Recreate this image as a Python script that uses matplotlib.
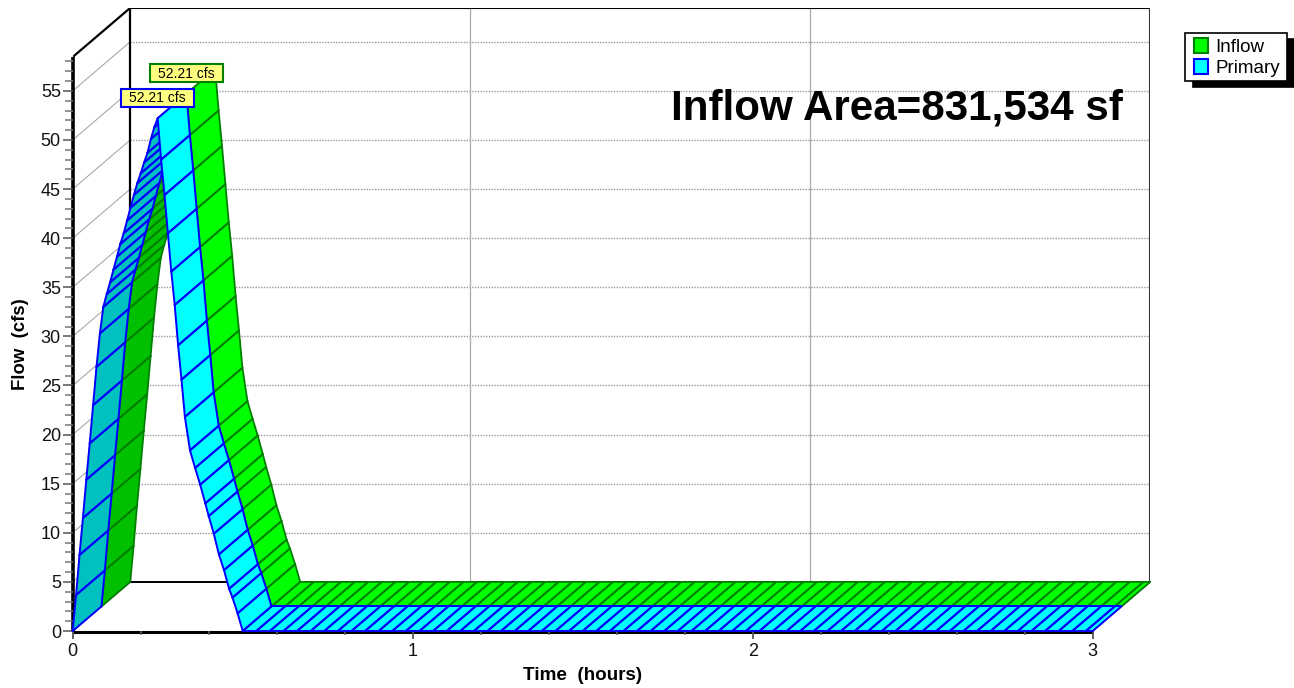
import numpy as np
import matplotlib
matplotlib.use("Agg")
import matplotlib.pyplot as plt
from matplotlib.patches import Patch, Rectangle

plt.rcParams['font.family'] = ['Liberation Sans', 'DejaVu Sans']

hydro_time = [i / 100 for i in range(34)] + [0.345, 0.36, 0.375, 0.39, 0.40, 0.415, 0.43, 0.445,
                                             0.46, 0.47, 0.485, 0.50]
hydro_flow = [0.0, 3.67, 7.74, 11.5, 15.4, 19.1, 23.0, 26.9, 30.3, 33.0,
              34.3, 35.5, 36.8, 38.1, 39.4, 40.5, 41.8, 43.1, 44.4, 45.6,
              46.6, 47.7, 48.7, 50.1, 51.3, 52.21,
              48.0, 44.4, 40.5, 36.6, 33.2, 29.1, 25.6, 21.8,
              18.4, 16.6, 14.9, 13.0, 11.7, 9.9, 7.8, 6.2, 4.3, 3.4, 1.8, 0.0]
flat_time = [0.54, 0.58, 0.62, 0.66, 0.70, 0.74, 0.78, 0.82, 0.86, 0.90, 0.94, 0.98,
             1.02, 1.06, 1.10, 1.14, 1.18, 1.22, 1.26, 1.30, 1.34, 1.38, 1.42, 1.46,
             1.50, 1.54, 1.58, 1.62, 1.66, 1.70, 1.74, 1.78, 1.82, 1.86, 1.90, 1.94,
             1.98, 2.02, 2.06, 2.10, 2.14, 2.18, 2.22, 2.26, 2.30, 2.34, 2.38, 2.42,
             2.46, 2.50, 2.54, 2.58, 2.62, 2.66, 2.70, 2.74, 2.78, 2.82, 2.86, 2.90,
             2.94, 2.98, 3.00]
times = hydro_time + flat_time
flows = hydro_flow + [0.0] * len(flat_time)
peak_flow = 52.21
peak_time = 0.25

x_major = [0, 1, 2, 3]
y_major = [0, 5, 10, 15, 20, 25, 30, 35, 40, 45, 50, 55]
y_top = 58.45
grid_flows = [5, 10, 15, 20, 25, 30, 35, 40, 45, 50, 55]

W, H = 1294, 688
X0, Y0 = 72.7, 631.0
SX, SY = 340.0, 9.82
DX, DY = 57.5 / SX, 5.0   # full depth of the 3-D box, in data units

fig = plt.figure(figsize=(W / 100, H / 100), dpi=100)
ax = fig.add_axes([X0 / W, (H - Y0) / H, (1150 - X0) / W, (Y0 - 8) / H])
ax.set_xlim(0, (1150 - X0) / SX)
ax.set_ylim(0, (Y0 - 8) / SY)
ax.set_facecolor('none')
for s in ax.spines.values():
    s.set_visible(False)

GRID = '#999999'
# back wall
for q in grid_flows:
    ax.plot([DX, 3 + DX], [q + DY, q + DY], color=GRID, lw=1.0, ls=(0, (1, 1)), zorder=1)
    ax.plot([0, DX], [q, q + DY], color='#a8a8a8', lw=0.8, zorder=1)
for t in x_major[1:3]:
    ax.plot([t + DX, t + DX], [DY, y_top + DY], color='#aaaaaa', lw=0.9, zorder=1)
ax.plot([DX, 3 + DX], [y_top + DY] * 2, color='k', lw=1.5, zorder=1)
ax.plot([DX, DX], [DY, y_top + DY], color='k', lw=1.6, zorder=1)
ax.plot([3 + DX] * 2, [DY, y_top + DY], color='#333333', lw=1.5, zorder=1)
ax.plot([DX, 3 + DX], [DY, DY], color='k', lw=1.4, zorder=1)
ax.plot([0, DX], [y_top, y_top + DY], color='k', lw=1.6, zorder=1)
ax.plot([0, DX], [0, DY], color='#555555', lw=1, zorder=1)
ax.plot([3, 3 + DX], [0, DY], color='#777777', lw=1.1, zorder=1)
# front axes
ax.plot([0.002, 0.002], [0, y_top], color='k', lw=2.6, zorder=1.5, solid_capstyle='butt', clip_on=False)
ax.plot([0, 3], [-0.08, -0.08], color='k', lw=2.2, zorder=1.5, solid_capstyle='butt', clip_on=False)


def ribbon(z0, z1, bright, dark, edge, lw):
    t = np.array(times)
    q = np.array(flows)
    ox0, oy0 = DX * z0, DY * z0
    ox1, oy1 = DX * z1, DY * z1
    kw = dict(zorder=2, solid_capstyle='round', clip_on=False)
    n_rise = int(np.argmax(q))
    for seg in (range(0, n_rise), range(n_rise, len(t) - 1)):
        for i in seg:
            col = dark if q[i + 1] > q[i] else bright
            xs = [t[i] + ox0, t[i + 1] + ox0, t[i + 1] + ox1, t[i] + ox1]
            ys = [q[i] + oy0, q[i + 1] + oy0, q[i + 1] + oy1, q[i] + oy1]
            ax.fill(xs, ys, facecolor=col, edgecolor=col, lw=0.3, zorder=2)
        for i in seg:
            ax.plot([t[i] + ox0, t[i] + ox1], [q[i] + oy0, q[i] + oy1], color=edge, lw=lw, **kw)
            ax.plot([t[i + 1] + ox0, t[i + 1] + ox1], [q[i + 1] + oy0, q[i + 1] + oy1],
                    color=edge, lw=lw, **kw)
            ax.plot([t[i] + ox0, t[i + 1] + ox0], [q[i] + oy0, q[i + 1] + oy0], color=edge, lw=lw, **kw)
            ax.plot([t[i] + ox1, t[i + 1] + ox1], [q[i] + oy1, q[i + 1] + oy1], color=edge, lw=lw, **kw)


ribbon(0.5, 1.0, '#00ff00', '#00c000', '#008000', 1.3)
ribbon(0.0, 0.5, '#00ffff', '#00c0c0', '#0000ff', 1.4)

# ticks
ax.set_xticks(x_major)
ax.set_xticks([v / 5 for v in range(16)], minor=True)
ax.set_yticks(y_major)
ax.set_yticks(list(range(0, 59)), minor=True)
ax.tick_params(axis='x', which='major', length=6, width=1.3, color='#555555', labelsize=13, pad=3)
ax.tick_params(axis='x', which='minor', length=3.2, width=1.1, color='#666666')
ax.tick_params(axis='y', which='major', length=7.5, width=1.1, color='#555555', labelsize=13, pad=1)
ax.tick_params(axis='y', which='minor', length=5.5, width=1.1, color='#777777')
for lab in ax.get_xticklabels() + ax.get_yticklabels():
    lab.set_color('#111111')

fig.text(583 / W, 1 - 675 / H, 'Time  (hours)', ha='center', va='center', fontsize=13.6, fontweight='bold')
fig.text(21 / W, 1 - 344 / H, 'Flow  (cfs)', ha='center', va='center', rotation=90, fontsize=13.4, fontweight='bold')
fig.text(896.5 / W, 1 - 120 / H, 'Inflow Area=831,534 sf', ha='center', va='baseline', fontsize=30.3, fontweight='bold')

# peak call-outs
label = f'{peak_flow:.2f} cfs'
box_w, box_h = 73 / SX, 18 / SY
for cx, cy, ec, z in [(peak_time + DX / 2, peak_flow + 2.07 + DY / 2, '#008000', 5),
                      (peak_time, peak_flow + 2.07, '#0000ff', 6)]:
    ax.add_patch(Rectangle((cx - box_w / 2, cy - box_h / 2), box_w, box_h, fc='#ffff80', ec=ec,
                           lw=1.5, zorder=z, clip_on=False))
    ax.text(cx, cy - 0.05, label, fontsize=10, ha='center', va='center', zorder=z, clip_on=False)

# legend frame with hard shadow
for x, y, w, h, fc in [(1193, 39, 101, 48, 'k'), (1184.5, 32.5, 102, 48.5, 'w')]:
    fig.add_artist(Rectangle((x / W, 1 - (y + h) / H), w / W, h / H, fc=fc, ec='k', lw=1.2,
                             transform=fig.transFigure, zorder=8))
handles = [Patch(facecolor='#00ff00', edgecolor='#008000', lw=1.5, label='Inflow'),
           Patch(facecolor='#00ffff', edgecolor='#0000ff', lw=1.5, label='Primary')]
leg = fig.legend(handles=handles, loc='upper left', bbox_to_anchor=(1194 / W, 1 - 38 / H),
                 bbox_transform=fig.transFigure, borderaxespad=0, borderpad=0, fontsize=13.5, frameon=False,
                 handlelength=0.75, handleheight=0.82, handletextpad=0.38, labelspacing=0.18)
leg.set_zorder(9)

fig.savefig('out.png', dpi=100)
